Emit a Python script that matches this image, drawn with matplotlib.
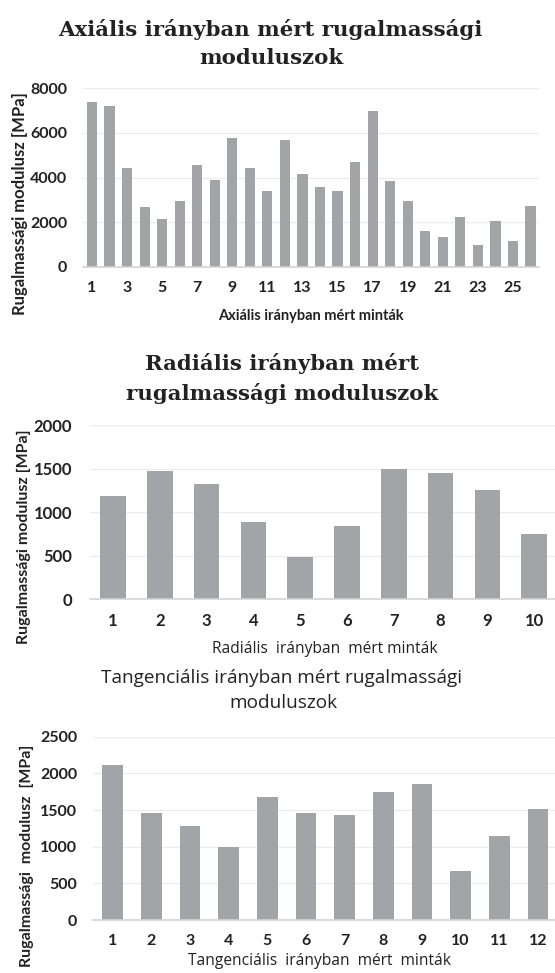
import numpy as np
import matplotlib.pyplot as plt

W, H = 555, 973

# axial samples 1..26
axial_vals = [7400, 7200, 4430, 2690, 2120, 2960, 4580, 3870, 5770, 4430,
              3380, 5690, 4140, 3560, 3380, 4680, 7000, 3840, 2960, 1620,
              1310, 2240, 980, 2030, 1140, 2720]
# radial samples 1..10
radial_vals = [1180, 1475, 1325, 890, 485, 840, 1495, 1450, 1255, 745]
# tangential samples 1..12
tang_vals = [2110, 1465, 1285, 990, 1675, 1455, 1430, 1750, 1855, 665, 1150, 1510]

axial_ticks = [str(i) for i in range(1, 27, 2)]
radial_ticks = [str(i) for i in range(1, 11)]
tang_ticks = [str(i) for i in range(1, 13)]

bar_col = '#a3a4a8'
txt_col = '#222222'
tick_font = 'Lato'


def px_axes(left, right, top, bottom):
    return fig.add_axes([left / W, 1 - bottom / H, (right - left) / W, (bottom - top) / H])


def chart(ax, vals, ymax, ystep, xticks, xtick_step, width, ypad, fs):
    n = len(vals)
    x = np.arange(1, n + 1)
    ax.bar(x, vals, width, color=bar_col, zorder=2)
    ax.set_xlim(0.5, n + 0.5)
    ax.set_ylim(0, ymax)
    ax.set_yticks(np.arange(0, ymax + 1, ystep))
    ax.set_xticks(x[::xtick_step])
    ax.set_xticklabels(xticks)
    ax.grid(axis='y', color='#ededed', lw=0.9, zorder=0)
    for s in ['top', 'right', 'left']:
        ax.spines[s].set_visible(False)
    ax.spines['bottom'].set_color('#d4d4d4')
    ax.spines['bottom'].set_linewidth(1.2)
    ax.tick_params(axis='y', length=0, pad=ypad, labelsize=fs, labelcolor=txt_col)
    ax.tick_params(axis='x', length=0, pad=10, labelsize=fs, labelcolor=txt_col)
    for lab in ax.get_xticklabels() + ax.get_yticklabels():
        lab.set_fontfamily(tick_font)
        lab.set_fontweight('bold')


fig = plt.figure(figsize=(W / 100, H / 100), dpi=100)

# chart 1: axial
ax1 = px_axes(83.2, 539.3, 88.3, 266.7)
chart(ax1, axial_vals, 8000, 2000, axial_ticks, 2, 0.58, 11.5, 11.5)
# chart 2: radial
ax2 = px_axes(89.6, 557.6, 425, 599.3)
chart(ax2, radial_vals, 2000, 500, radial_ticks, 1, 0.545, 12.5, 12)
# chart 3: tangential
ax3 = px_axes(93.3, 557.3, 736.7, 920)
chart(ax3, tang_vals, 2500, 500, tang_ticks, 1, 0.53, 11.7, 11.5)


def ftext(x, y, s, **kw):
    fig.text(x / W, 1 - y / H, s, ha='center', va='center', color=txt_col, **kw)


# titles
ftext(270, 29, 'Axiális irányban mért rugalmassági', family='DejaVu Serif',
      weight='bold', fontsize=15.3)
ftext(271, 58, 'moduluszok', family='DejaVu Serif', weight='bold', fontsize=15.3)
ftext(282, 363, 'Radiális irányban mért', family='DejaVu Serif', weight='bold', fontsize=15.3)
ftext(282, 394, 'rugalmassági moduluszok', family='DejaVu Serif', weight='bold', fontsize=15.3)
ftext(282, 678, 'Tangenciális irányban mért rugalmassági', family='Open Sans', fontsize=13.7)
ftext(283, 703, 'moduluszok', family='Open Sans', fontsize=13.7)

# x labels
ftext(311, 316, 'Axiális irányban mért minták', family='Lato', weight='bold', fontsize=10.5)
ftext(325, 649, 'Radiális  irányban  mért minták', family='Open Sans', fontsize=11.2)
ftext(319, 961, 'Tangenciális  irányban  mért  minták', family='Open Sans', fontsize=11.2)

# y labels
ftext(20, 204, 'Rugalmassági modulusz [MPa]', family='Lato', weight='bold',
      fontsize=12, rotation=90)
ftext(24, 537, 'Rugalmassági modulusz [MPa]', family='Lato', weight='bold',
      fontsize=11.5, rotation=90)
ftext(27, 856, 'Rugalmassági  modulusz  [MPa]', family='Lato', weight='bold',
      fontsize=11.5, rotation=90)

fig.savefig('out.png', dpi=100)
